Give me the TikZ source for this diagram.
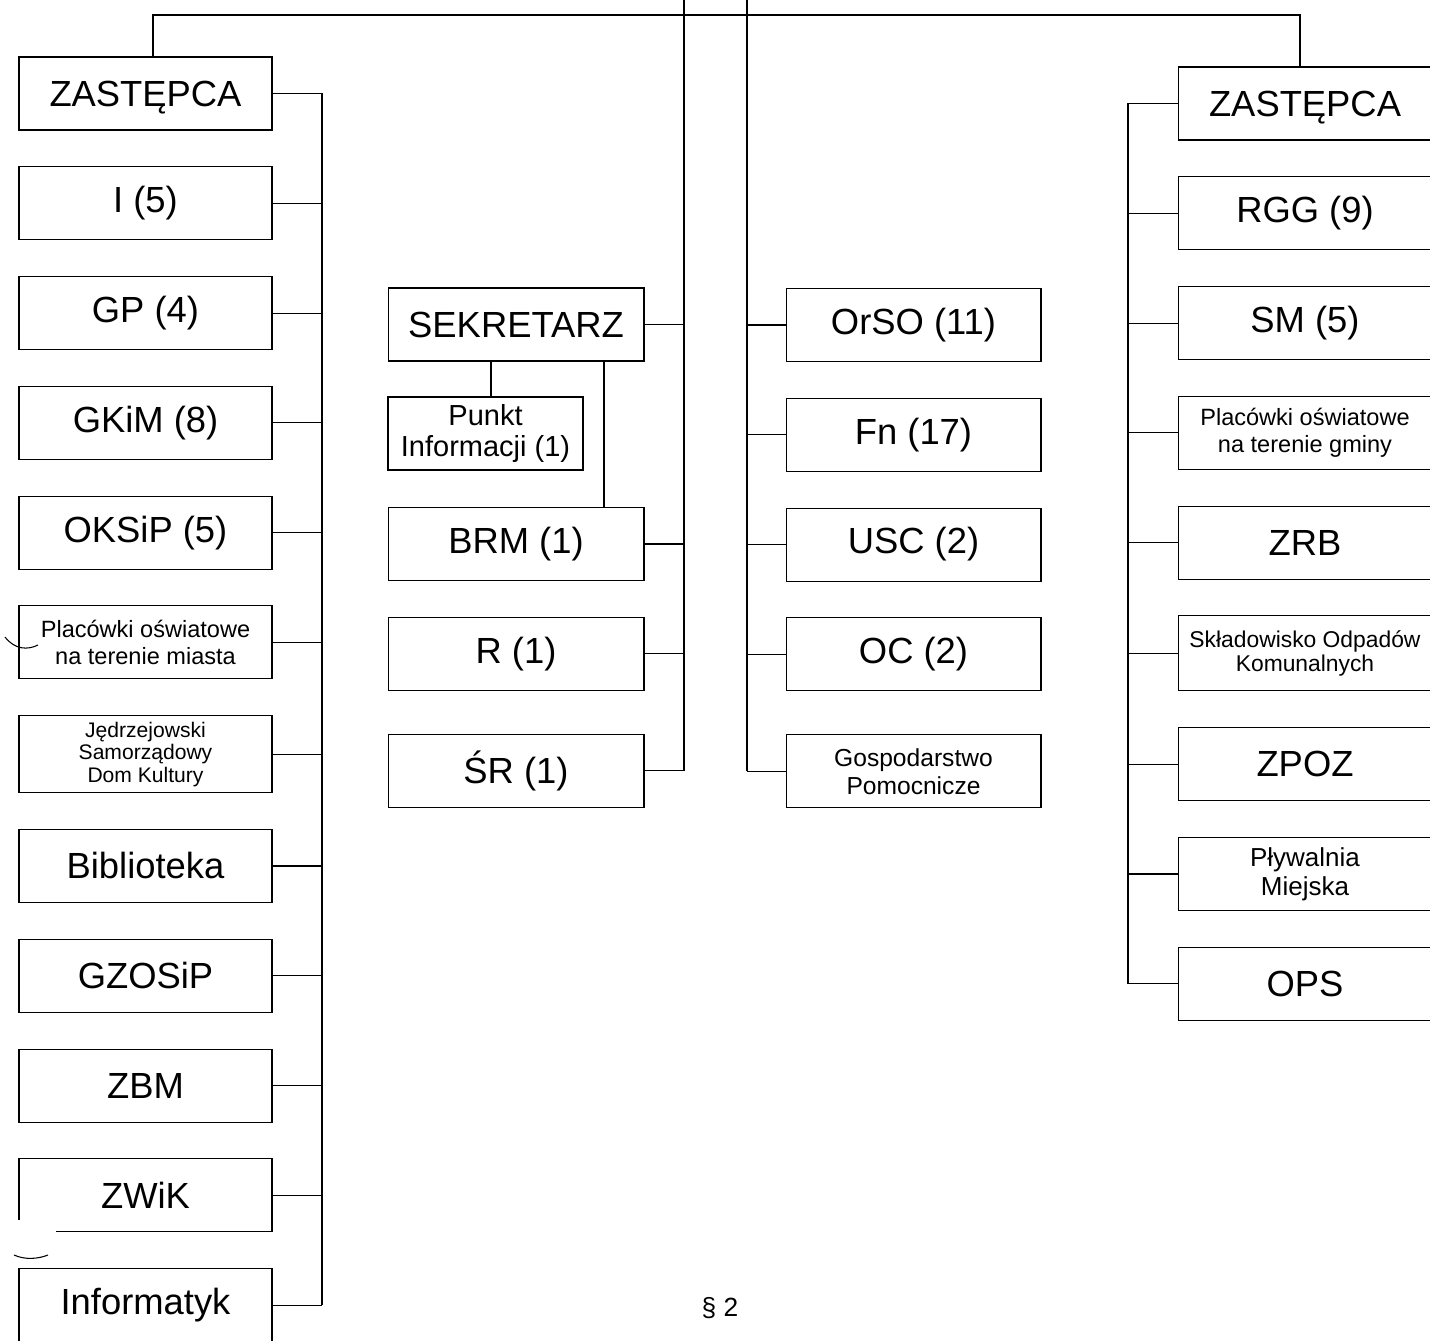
\documentclass[tikz,border=0pt]{standalone}
\usepackage{fontspec}
\setmainfont{Liberation Sans}
\usetikzlibrary{positioning}

\begin{document}
\begin{tikzpicture}[x=0.02cm,y=-0.02cm,line width=0.6pt,node distance=0.715cm,
  unit/.style={draw,align=center,inner sep=0pt,minimum height=1.46cm,
    font=\fontsize{20.7}{24}\selectfont},
  leftunit/.style={unit,minimum width=5.06cm},
  secunit/.style={unit,minimum width=5.12cm},
  orgunit/.style={unit,minimum width=5.1cm},
  rightunit/.style={unit,minimum width=5.08cm},
  txtmid/.style={font=\fontsize{16.5}{18}\selectfont},
  txtsmall/.style={font=\fontsize{13.4}{15}\selectfont},
  txttiny/.style={font=\fontsize{12}{12.8}\selectfont}]

\useasboundingbox (0,0) rectangle (1430,1341);
\clip (0,0) rectangle (1430,1341);

% left deputy
\node[leftunit,text depth=0pt] (zl) at (145.5,93.5) {ZASTĘPCA};
\node[leftunit] (i5) [below=of zl] {I (5)};
\node[leftunit] (gp) [below=of i5] {GP (4)};
\node[leftunit] (gkim) [below=of gp] {GKiM (8)};
\node[leftunit] (oksip) [below=of gkim] {OKSiP (5)};
\node[leftunit,txtsmall] (pom) [below=of oksip] {Placówki oświatowe\\na terenie miasta};
\node[leftunit,txttiny,minimum height=1.54cm] (jsdk) [below=of pom] {Jędrzejowski\\Samorządowy\\Dom Kultury};
\node[leftunit] (bibl) [below=of jsdk] {Biblioteka};
\node[leftunit] (gzosip) [below=of bibl] {GZOSiP};
\node[leftunit] (zbm) [below=of gzosip] {ZBM};
\node[leftunit] (zwik) [below=of zbm] {ZWiK};
\node[leftunit] (inf) [below=of zwik] {Informatyk};

% secretary
\node[secunit] (sek) at (516,324.5) {SEKRETARZ};
\node[unit,txtmid,minimum width=3.9cm] (punkt) at (485.5,433.5) {Punkt\\Informacji (1)};
\node[secunit] (brm) at (516,544) {BRM (1)};
\node[secunit] (r1) [below=of brm] {R (1)};
\node[secunit] (sr) [below=0.86cm of r1] {ŚR (1)};

% offices
\node[orgunit] (orso) at (913.5,325) {OrSO (11)};
\node[orgunit] (fn) [below=of orso] {Fn (17)};
\node[orgunit] (usc) [below=of fn] {USC (2)};
\node[orgunit] (oc) [below=of usc] {OC (2)};
\node[orgunit,font=\fontsize{14}{16}\selectfont] (gosp) [below=0.86cm of oc] {Gospodarstwo\\Pomocnicze};

% right deputy
\node[rightunit,text depth=0pt] (zr) at (1305,103.5) {ZASTĘPCA};
\node[rightunit] (rgg) [below=of zr] {RGG (9)};
\node[rightunit] (sm) [below=of rgg] {SM (5)};
\node[rightunit,txtsmall] (pog) [below=of sm] {Placówki oświatowe\\na terenie gminy};
\node[rightunit] (zrb) [below=of pog] {ZRB};
\node[rightunit,font=\fontsize{13}{13.6}\selectfont,minimum height=1.5cm] (sok) [below=of zrb] {Składowisko Odpadów\\Komunalnych};
\node[rightunit] (zpoz) [below=of sok] {ZPOZ};
\node[rightunit,font=\fontsize{14.8}{16.5}\selectfont] (pm) [below=of zpoz] {Pływalnia\\Miejska};
\node[rightunit] (ops) [below=of pm] {OPS};

\node[font=\fontsize{15}{18}\selectfont] (par) at (720,1308) {§ 2};

\coordinate (busL) at (322,0);
\coordinate (busR) at (1128,0);
\coordinate (headS) at (684,-10);
\coordinate (headO) at (747,-10);
\coordinate (tl) at (153,15);
\coordinate (tr) at (1300,15);
\coordinate (sp) at (491,0);
\coordinate (sb) at (604,0);

% top line
\draw (zl.north -| tl) -- (tl) -- (tr) -- (zr.north -| tr);
\draw (headS) -- (sr.east -| headS);
\draw (headO) -- (gosp.west -| headO);

% buses
\draw (zl.east -| busL) -- (inf.east -| busL);
\draw (zr.west -| busR) -- (ops.west -| busR);

\path[draw]
  (zl.east) edge (zl.east -| busL)
  (i5.east) edge (i5.east -| busL)
  (gp.east) edge (gp.east -| busL)
  (gkim.east) edge (gkim.east -| busL)
  (oksip.east) edge (oksip.east -| busL)
  (pom.east) edge (pom.east -| busL)
  (jsdk.east) edge (jsdk.east -| busL)
  (bibl.east) edge (bibl.east -| busL)
  (gzosip.east) edge (gzosip.east -| busL)
  (zbm.east) edge (zbm.east -| busL)
  (zwik.east) edge (zwik.east -| busL)
  (inf.east) edge (inf.east -| busL)

  (sek.east) edge (sek.east -| headS)
  (brm.east) edge (brm.east -| headS)
  (r1.east) edge (r1.east -| headS)
  (sr.east) edge (sr.east -| headS)
  (sek.south -| sp) edge (punkt.north -| sp)
  (sek.south -| sb) edge (brm.north -| sb)

  (orso.west) edge (orso.west -| headO)
  (fn.west) edge (fn.west -| headO)
  (usc.west) edge (usc.west -| headO)
  (oc.west) edge (oc.west -| headO)
  (gosp.west) edge (gosp.west -| headO)

  (zr.west) edge (zr.west -| busR)
  (rgg.west) edge (rgg.west -| busR)
  (sm.west) edge (sm.west -| busR)
  (pog.west) edge (pog.west -| busR)
  (zrb.west) edge (zrb.west -| busR)
  (sok.west) edge (sok.west -| busR)
  (zpoz.west) edge (zpoz.west -| busR)
  (pm.west) edge (pm.west -| busR)
  (ops.west) edge (ops.west -| busR)
;

% scan marks
\fill[white] (15,1220) rectangle (56,1236);
\draw (5,637) .. controls (15,650) and (28,650) .. (38,645);
\draw (14,1255) .. controls (25,1260) and (38,1259) .. (48,1255);
\end{tikzpicture}
\end{document}
